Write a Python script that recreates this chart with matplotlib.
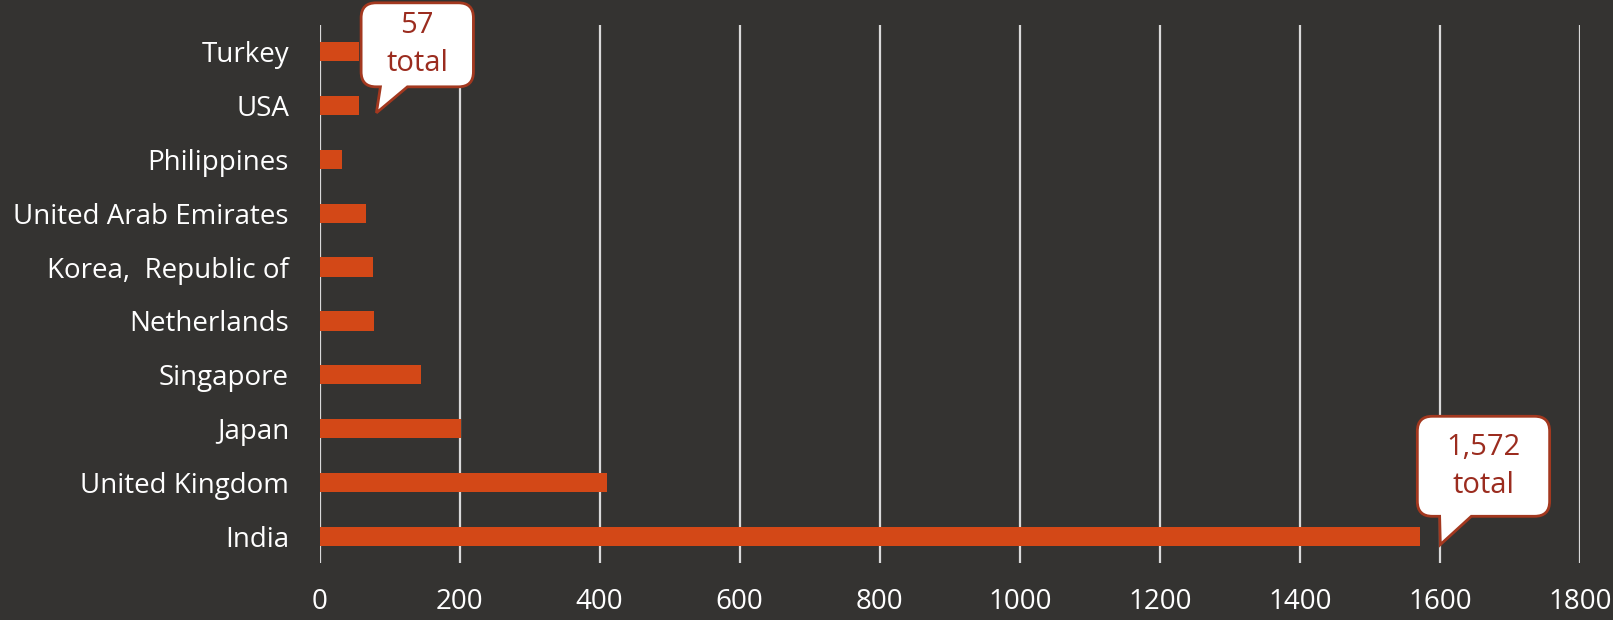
import matplotlib
matplotlib.use("Agg")
import matplotlib.pyplot as plt
import matplotlib.transforms as mtransforms
from matplotlib.path import Path
from matplotlib.patches import PathPatch

# ---- data ----
categories = ["India", "United Kingdom", "Japan", "Singapore", "Netherlands",
              "Korea,  Republic of", "United Arab Emirates", "Philippines", "USA", "Turkey"]
values = [1572, 410, 202, 145, 78, 77, 67, 32, 57, 56]
x_ticks = [0, 200, 400, 600, 800, 1000, 1200, 1400, 1600, 1800]
callouts = [("USA", "57\ntotal"), ("India", "1,572\ntotal")]

BG = "#343331"
BAR = "#D34817"
GRID = "#D9D9D9"
CALL_EDGE = "#A3381F"
CALL_TEXT = "#9B2C1F"
FONT = "Open Sans"

plt.rcParams["font.family"] = [FONT, "DejaVu Sans"]

fig = plt.figure(figsize=(16.13, 6.20), dpi=100, facecolor=BG)
ax = fig.add_axes([319.5 / 1613, 1 - 563 / 620, (1580 - 319.5) / 1613, (563 - 25) / 620])
ax.set_facecolor(BG)

ypos = list(range(len(categories)))
ax.barh(ypos, values, height=0.355, color=BAR, zorder=3)

ax.set_xlim(0, 1800)
ax.set_ylim(-0.49, len(categories) - 0.51)
ax.set_xticks(x_ticks)
ax.set_xticklabels([str(t) for t in x_ticks])
ax.set_yticks(ypos)
ax.set_yticklabels(categories)
ax.tick_params(axis="both", length=0, colors="white", labelsize=20)
ax.tick_params(axis="y", pad=22)
ax.tick_params(axis="x", pad=18)
for s in ax.spines.values():
    s.set_visible(False)
ax.grid(axis="x", color=GRID, linewidth=1.6, zorder=1)
ax.set_axisbelow(True)


def bubble_path(x0, x1, y0, y1, r, a, b):
    verts = [(a, y0), (0, 0), (b, y0), (x1 - r, y0), (x1, y0), (x1, y0 + r),
             (x1, y1 - r), (x1, y1), (x1 - r, y1), (x0 + r, y1), (x0, y1), (x0, y1 - r),
             (x0, y0 + r), (x0, y0), (x0 + r, y0), (a, y0), (a, y0)]
    codes = [Path.MOVETO, Path.LINETO, Path.LINETO, Path.LINETO, Path.CURVE3, Path.CURVE3,
             Path.LINETO, Path.CURVE3, Path.CURVE3, Path.LINETO, Path.CURVE3, Path.CURVE3,
             Path.LINETO, Path.CURVE3, Path.CURVE3, Path.LINETO, Path.CLOSEPOLY]
    return Path(verts, codes)


# layout of each bubble in pixels: tip offset from bar end, box relative to tip
bubble_geom = {
    "USA": dict(tip=(17, -7.5), box=(-15.3, 97, 26, 110), tail=(4, 31)),
    "India": dict(tip=(20, -8), box=(-23, 109.3, 28.3, 128.3), tail=(-0.7, 31)),
}

for cat, label in callouts:
    i = categories.index(cat)
    v = values[i]
    g = bubble_geom[cat]
    tx, ty = g["tip"]
    x0, x1, y0, y1 = g["box"]
    a, b = g["tail"]
    path = bubble_path(x0, x1, y0, y1, 15, a, b)
    trans = (mtransforms.Affine2D().translate(tx, ty)
             + mtransforms.ScaledTranslation(v, i, ax.transData))
    patch = PathPatch(path, facecolor="white", edgecolor=CALL_EDGE, linewidth=2.0,
                      transform=trans, zorder=5, clip_on=False)
    ax.add_artist(patch)
    cx = tx + (x0 + x1) / 2
    cy = ty + (y0 + y1) / 2
    ax.annotate(label, xy=(v, i), xytext=(cx, cy), textcoords="offset pixels",
                ha="center", va="center", color=CALL_TEXT, fontsize=21,
                linespacing=1.4, zorder=6, annotation_clip=False)

fig.savefig("out.png", dpi=100, facecolor=BG)
